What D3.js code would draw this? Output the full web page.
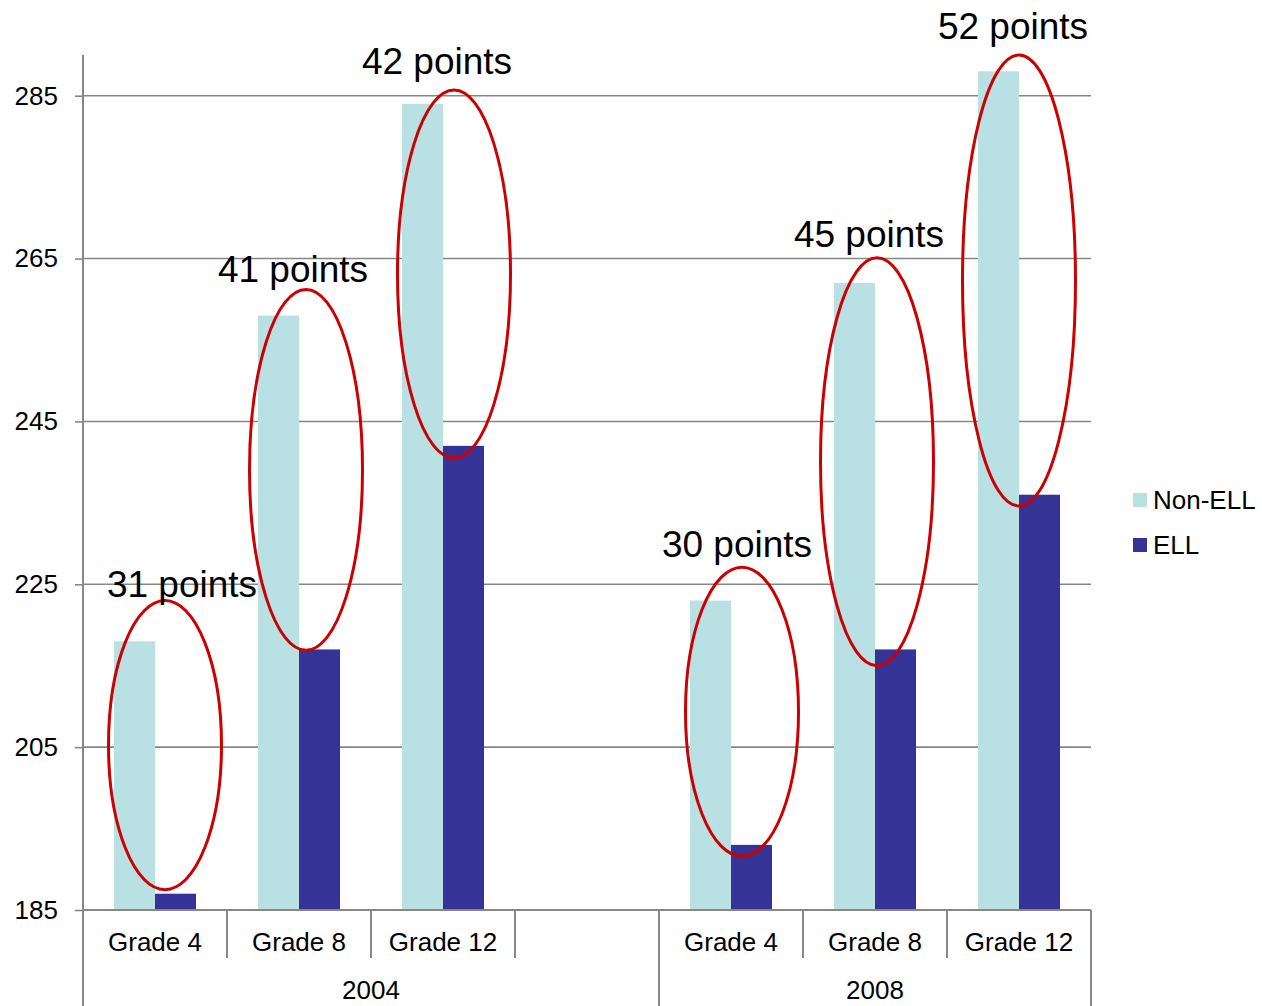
<!DOCTYPE html>
<html>
<head>
<meta charset="utf-8">
<script src="https://cdn.jsdelivr.net/npm/d3@7"></script>
<style>
  html, body { margin: 0; padding: 0; background: #fff; }
  svg { display: block; font-family: Arial, "Liberation Sans", sans-serif; }
</style>
</head>
<body>
<svg id="chart" width="1262" height="1006"></svg>
<script>
// NAEP reading scores, Non-ELL vs ELL students
const years = ["2004", "2008"];
const grades = ["Grade 4", "Grade 8", "Grade 12"];
const seriesNames = ["Non-ELL", "ELL"];
const nonEll2004 = [218, 258, 284];
const ell2004 = [187, 217, 242];
const nonEll2008 = [223, 262, 288];
const ell2008 = [193, 217, 236];
const yTicks = [185, 205, 225, 245, 265, 285];

// gap ellipses: top and bottom in score units, label anchor in score units
const ellipseTop = [223, 261.2, 285.7, 227.1, 265.1, 290];
const ellipseBottom = [187.5, 216.9, 240.5, 191.6, 215, 234.6];
const labelAt = [223.4, 262.1, 287.7, 228.4, 266.4, 292.0];

const colors = { "Non-ELL": "#b9e0e3", "ELL": "#363397" };
const gridColor = "#878787";

const svg = d3.select("#chart");
const plotLeft = 83, plotRight = 1091, plotTop = 55, plotBottom = 910;

// 2004 group carries an empty fourth slot before 2008 starts
const slots = [];
grades.forEach(g => slots.push({ year: "2004", grade: g }));
slots.push({ year: "2004", grade: "" });
grades.forEach(g => slots.push({ year: "2008", grade: g }));
const slotKey = d => d.year + "|" + d.grade;

const rows = [];
grades.forEach((g, i) => rows.push({ year: "2004", grade: g, "Non-ELL": nonEll2004[i], "ELL": ell2004[i] }));
grades.forEach((g, i) => rows.push({ year: "2008", grade: g, "Non-ELL": nonEll2008[i], "ELL": ell2008[i] }));

const x0 = d3.scaleBand().domain(slots.map(slotKey)).range([plotLeft, plotRight]).padding(0);
const x1 = d3.scaleBand().domain(seriesNames).range([0, x0.bandwidth()]).paddingInner(0).paddingOuter(0.756);
const y = d3.scaleLinear().domain([185, 290]).range([plotBottom, plotTop]);

// horizontal gridlines
svg.append("g").selectAll("line").data(yTicks).join("line")
  .attr("x1", plotLeft).attr("x2", plotRight)
  .attr("y1", d => y(d)).attr("y2", d => y(d))
  .attr("stroke", gridColor).attr("stroke-width", 1.6);

// y axis
const yAxis = svg.append("g").attr("transform", `translate(${plotLeft},0)`)
  .call(d3.axisLeft(y).tickValues(yTicks).tickSize(8).tickPadding(17).tickFormat(d3.format("d")));
yAxis.select(".domain").remove();
yAxis.append("line").attr("x1", 0).attr("x2", 0).attr("y1", plotTop).attr("y2", 1006)
  .attr("stroke", gridColor).attr("stroke-width", 2);
yAxis.selectAll(".tick line").attr("stroke", gridColor).attr("stroke-width", 1.6);
yAxis.selectAll(".tick text").attr("fill", "#000").style("font-size", "26px")
  .style("font-family", "Arial, 'Liberation Sans', sans-serif");

// bars
const groups = svg.append("g").selectAll("g").data(rows).join("g")
  .attr("transform", d => `translate(${x0(slotKey(d))},0)`);
groups.selectAll("rect").data(d => seriesNames.map(s => ({ s, v: d[s] }))).join("rect")
  .attr("x", d => x1(d.s)).attr("width", x1.bandwidth())
  .attr("y", d => y(d.v)).attr("height", d => y(185) - y(d.v))
  .attr("fill", d => colors[d.s]);

// x axis baseline and separators
const axisG = svg.append("g");
axisG.append("line").attr("x1", plotLeft).attr("x2", plotRight).attr("y1", plotBottom).attr("y2", plotBottom)
  .attr("stroke", gridColor).attr("stroke-width", 2);
const boundaries = slots.map(d => x0(slotKey(d))).concat([plotRight]);
boundaries.forEach((bx, i) => {
  if (i === 0) return;
  const isGroupEdge = i === 4 || i === boundaries.length - 1;
  axisG.append("line").attr("x1", bx).attr("x2", bx)
    .attr("y1", plotBottom).attr("y2", isGroupEdge ? 1006 : 958)
    .attr("stroke", gridColor).attr("stroke-width", 2);
});

// category labels
axisG.selectAll("text.grade").data(slots.filter(d => d.grade)).join("text")
  .attr("class", "grade")
  .attr("x", d => x0(slotKey(d)) + x0.bandwidth() / 2)
  .attr("y", 942).attr("dy", "0.35em")
  .attr("text-anchor", "middle").style("font-size", "26px").attr("fill", "#000")
  .text(d => d.grade);

// year labels
years.forEach(yr => {
  const ys = slots.filter(d => d.year === yr);
  const xa = x0(slotKey(ys[0]));
  const xb = x0(slotKey(ys[ys.length - 1])) + x0.bandwidth();
  axisG.append("text").attr("x", (xa + xb) / 2).attr("y", 990).attr("dy", "0.35em")
    .attr("text-anchor", "middle").style("font-size", "26px").attr("fill", "#000").text(yr);
});

// gap ellipses and labels
const ellipseDx = [10, 7, 11, 11, 2, 0];
const labelDx = [27, -6, -6, 6, -6, -6];
const annot = svg.append("g");
rows.forEach((d, i) => {
  const cx = x0(slotKey(d)) + x0.bandwidth() / 2 + ellipseDx[i];
  const yt = y(ellipseTop[i]), yb = y(ellipseBottom[i]);
  annot.append("ellipse")
    .attr("cx", cx).attr("cy", (yt + yb) / 2)
    .attr("rx", 56.5).attr("ry", (yb - yt) / 2)
    .attr("fill", "none").attr("stroke", "#cc0000").attr("stroke-width", 3);
  annot.append("text")
    .attr("x", x0(slotKey(d)) + x0.bandwidth() / 2 + labelDx[i])
    .attr("y", y(labelAt[i]))
    .attr("text-anchor", "middle").style("font-size", "37px").attr("fill", "#000")
    .text(`${d["Non-ELL"] - d["ELL"]} points`);
});

// legend
const legend = svg.append("g").attr("transform", "translate(1133,500)");
seriesNames.forEach((s, i) => {
  const g = legend.append("g").attr("transform", `translate(0,${i * 45})`);
  g.append("rect").attr("x", 0).attr("y", -7).attr("width", 14).attr("height", 14).attr("fill", colors[s]);
  g.append("text").attr("x", 20).attr("y", 0).attr("dy", "0.35em")
    .style("font-size", "26px").attr("fill", "#000").text(s);
});
</script>
</body>
</html>
